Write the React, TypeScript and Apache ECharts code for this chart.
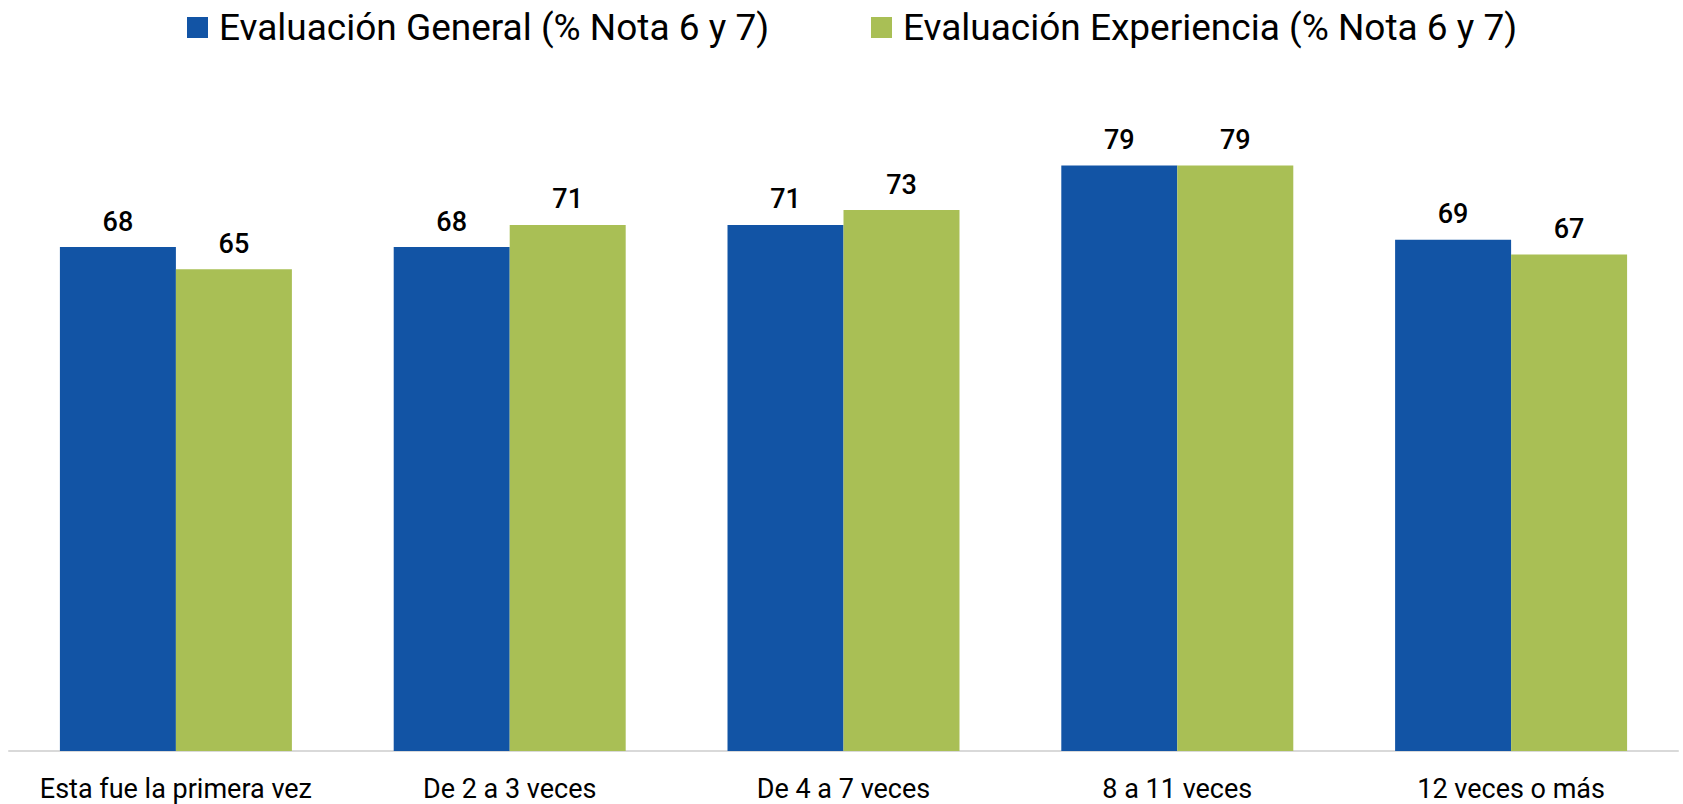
import React, { useEffect, useRef } from "react";
import * as echarts from "echarts";

const categories = [
  "Esta fue la primera vez",
  "De 2 a 3 veces",
  "De 4 a 7 veces",
  "8 a 11 veces",
  "12 veces o más",
];
const seriesNames = [
  "Evaluación General (% Nota 6 y 7)",
  "Evaluación Experiencia (% Nota 6 y 7)",
];
const general = [68, 68, 71, 79, 69];
const experiencia = [65, 71, 73, 79, 67];
const colors = ["#1254a5", "#a9bf55"];

const FONT = "Roboto, 'DejaVu Sans', sans-serif";

export default function App() {
  const ref = useRef<HTMLDivElement>(null);
  useEffect(() => {
    if (!ref.current) return;
    const chart = echarts.init(ref.current, undefined, { renderer: "svg" });
    const labelStyle = {
      show: true,
      position: "top" as const,
      distance: 12,
      color: "#000",
      fontSize: 27,
      fontWeight: 500,
      fontFamily: FONT,
    };
    const legendText = {
      fontSize: 37,
      fontWeight: 400,
      color: "#000",
      fontFamily: FONT,
      padding: [0, 0, 0, 6],
    };
    chart.setOption({
      animation: false,
      backgroundColor: "#fff",
      legend: [
        {
          data: [seriesNames[0]],
          left: 182,
          top: 4,
          itemWidth: 21,
          itemHeight: 21,
          icon: "rect",
          textStyle: legendText,
        },
        {
          data: [seriesNames[1]],
          left: 866,
          top: 4,
          itemWidth: 21,
          itemHeight: 21,
          icon: "rect",
          textStyle: legendText,
        },
      ],
      grid: { left: 9, right: 5, top: 10, bottom: 53 },
      xAxis: {
        type: "category",
        data: categories,
        axisLine: { lineStyle: { color: "#d9d9d9", width: 2 } },
        axisTick: { show: false },
        axisLabel: {
          interval: 0,
          color: "#000",
          fontSize: 27,
          fontWeight: 400,
          fontFamily: FONT,
          margin: 24,
        },
      },
      yAxis: {
        type: "value",
        min: 0,
        max: 100,
        show: false,
        splitLine: { show: false },
      },
      series: [
        {
          name: seriesNames[0],
          type: "bar",
          data: general,
          itemStyle: { color: colors[0] },
          barGap: "0%",
          barCategoryGap: "30.5%",
          label: labelStyle,
        },
        {
          name: seriesNames[1],
          type: "bar",
          data: experiencia,
          itemStyle: { color: colors[1] },
          barGap: "0%",
          barCategoryGap: "30.5%",
          label: labelStyle,
        },
      ],
    });
    return () => chart.dispose();
  }, []);
  return (
    <div
      ref={ref}
      style={{ position: "fixed", left: 0, top: 0, width: 1683, height: 804 }}
    />
  );
}
